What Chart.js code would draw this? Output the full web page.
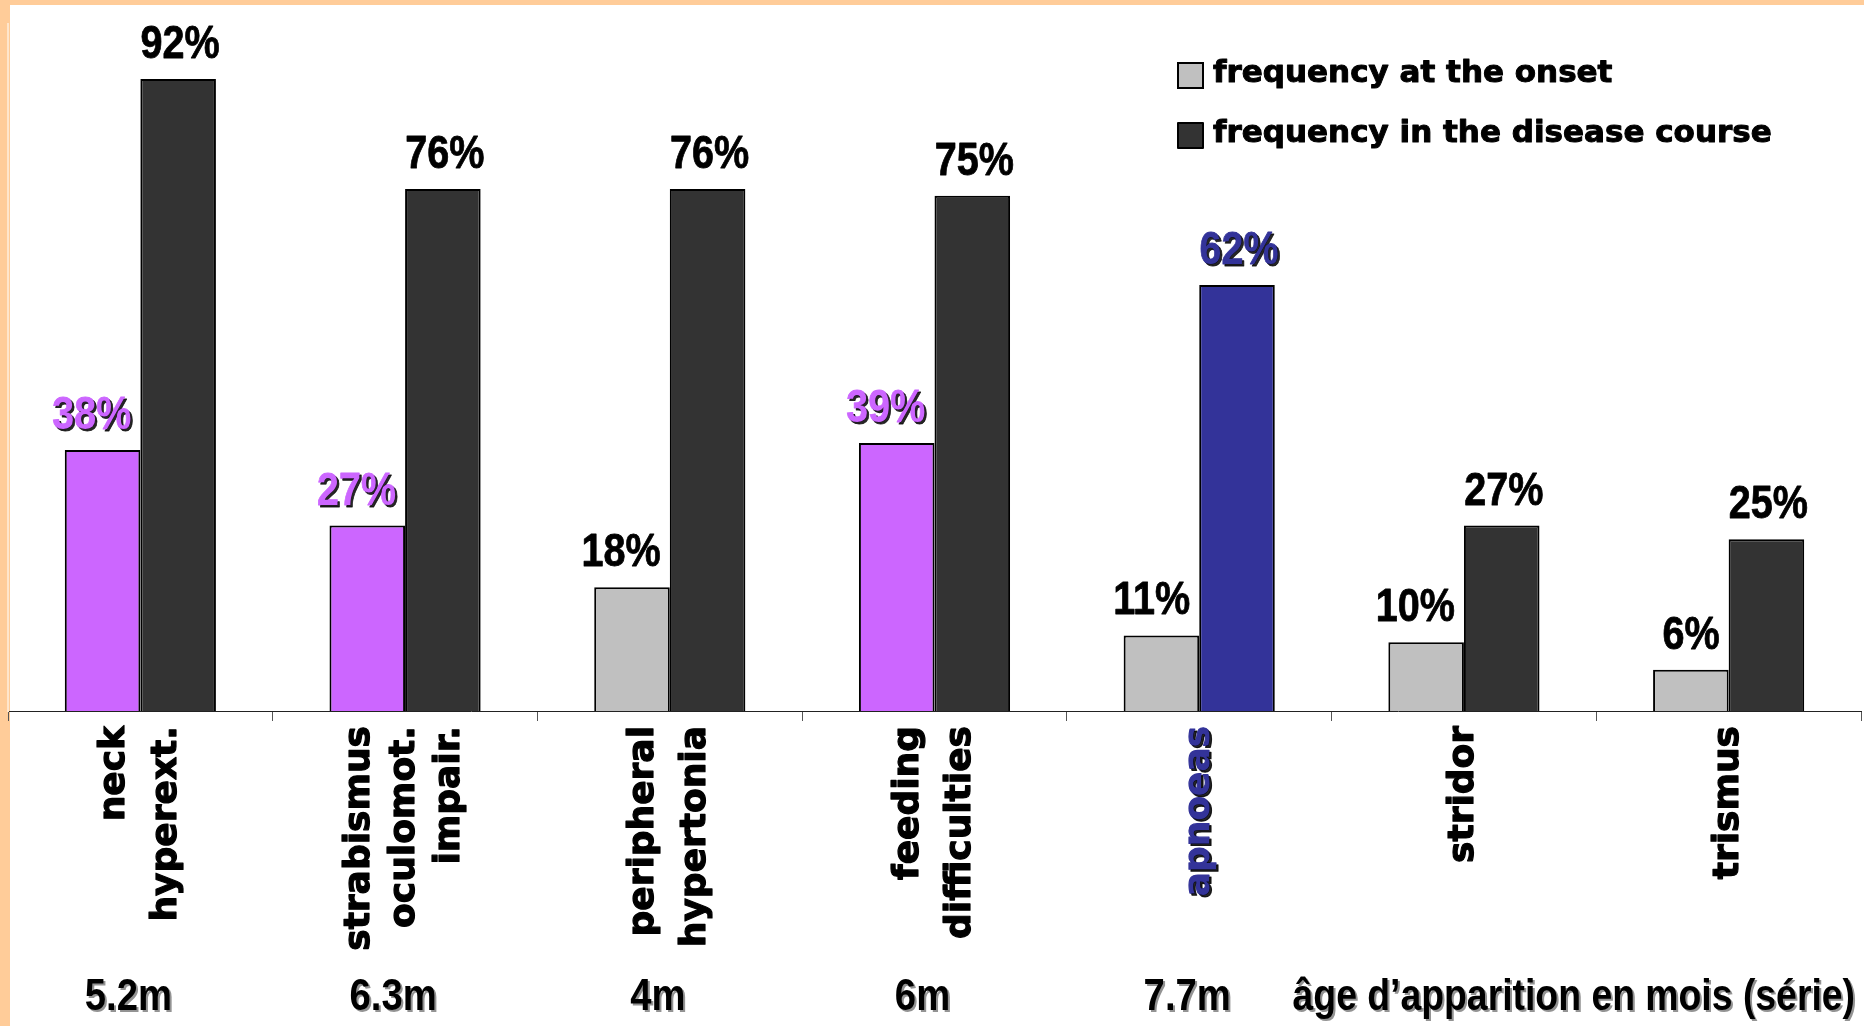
<!DOCTYPE html>
<html>
<head>
<meta charset="utf-8">
<script src="https://cdn.jsdelivr.net/npm/chart.js@4.4.1/dist/chart.umd.min.js"></script>
<style>
  html, body { margin: 0; padding: 0; background: #fff; }
  #wrap { position: relative; width: 1864px; height: 1026px; }
</style>
</head>
<body>
<div id="wrap"><canvas id="chart" width="1864" height="1026"></canvas></div>
<script>
// categories (multi-line labels read bottom-to-top under the axis)
const categories = [
  ['neck', 'hyperext.'],
  ['strabismus', 'oculomot.', 'impair.'],
  ['peripheral', 'hypertonia'],
  ['feeding', 'difficulties'],
  'apnoeas',
  'stridor',
  'trismus'
];
const onsetPct = [38, 27, 18, 39, 11, 10, 6];
const coursePct = [92, 76, 76, 75, 62, 27, 25];
const ageAtOnset = ['5.2m', '6.3m', '4m', '6m', '7.7m', '', ''];
const ageCaption = 'âge d’apparition en mois (série)';
const seriesNames = ['frequency at the onset', 'frequency in the disease course'];
const highlightOnset = [true, true, false, true, false, false, false];
const highlightCourse = [false, false, false, false, true, false, false];

const PURPLE = '#CC66FF';
const GREY = '#C0C0C0';
const DARK = '#333333';
const NAVY = '#333399';
const ORANGE = '#FFCC99';

const onsetColors = onsetPct.map((v, i) => highlightOnset[i] ? PURPLE : GREY);
const courseColors = coursePct.map((v, i) => highlightCourse[i] ? NAVY : DARK);

const NARROW = 'bold 46px "Liberation Sans", Arial, sans-serif';
const WIDE = '"DejaVu Sans", sans-serif';

// fill + thin stroke to get a heavier bold
function heavyText(c, txt, x, y, w) {
  c.lineWidth = w;
  c.lineJoin = 'round';
  c.strokeStyle = c.fillStyle;
  c.strokeText(txt, x, y);
  c.fillText(txt, x, y);
}

// orange frame on top and left edges
const frame = {
  id: 'frame',
  beforeDraw(chart) {
    const c = chart.ctx;
    c.save();
    c.fillStyle = '#fff';
    c.fillRect(0, 0, chart.width, chart.height);
    c.fillStyle = ORANGE;
    c.fillRect(0, 0, chart.width, 5);
    c.fillRect(0, 0, 10, chart.height);
    c.restore();
  }
};

// percent labels above each bar
const valueLabels = {
  id: 'valueLabels',
  afterDatasetsDraw(chart) {
    const c = chart.ctx;
    chart.data.datasets.forEach((ds, di) => {
      const meta = chart.getDatasetMeta(di);
      meta.data.forEach((bar, i) => {
        const hi = di === 0 ? highlightOnset[i] : highlightCourse[i];
        c.save();
        c.font = NARROW;
        c.textBaseline = 'alphabetic';
        let x = bar.x + 2;
        c.textAlign = 'center';
        if (di === 0) {
          x = bar.x + bar.width / 2 - 9;
          c.textAlign = 'right';
        }
        c.translate(x, bar.y - 21);
        c.scale(0.86, 1);
        if (hi) {
          c.shadowColor = 'rgba(0,0,0,0.85)';
          c.shadowOffsetX = 2;
          c.shadowOffsetY = 2;
        }
        c.fillStyle = hi ? ds.backgroundColor[i] : '#000';
        heavyText(c, ds.data[i] + '%', 0, 0, 0.8);
        c.restore();
      });
    });
  }
};

// rotated category names, one column per line, centred on the tick
const categoryLabels = {
  id: 'categoryLabels',
  afterDraw(chart) {
    const xs = chart.scales.x;
    const c = chart.ctx;
    categories.forEach((lab, i) => {
      const lines = Array.isArray(lab) ? lab : [lab];
      const pitch = lines.length > 2 ? 45 : 52;
      const cx = xs.getPixelForValue(i);
      lines.forEach((t, k) => {
        c.save();
        c.translate(cx + (k - (lines.length - 1) / 2) * pitch, xs.top + 15);
        c.rotate(-Math.PI / 2);
        c.font = 'bold 36px ' + WIDE;
        c.textAlign = 'right';
        c.textBaseline = 'middle';
        if (i === 4) {
          c.shadowColor = 'rgba(0,0,0,0.85)';
          c.shadowOffsetX = 2;
          c.shadowOffsetY = 2;
        }
        c.fillStyle = i === 4 ? NAVY : '#000';
        heavyText(c, t, 0, 0, 1.2);
        c.restore();
      });
    });
  }
};

// age row under the labels + legend box in the top right
const extras = {
  id: 'extras',
  afterDraw(chart) {
    const c = chart.ctx;
    const xs = chart.scales.x;
    c.save();
    c.font = 'bold 45px "Liberation Sans", Arial, sans-serif';
    c.textBaseline = 'alphabetic';
    c.shadowColor = 'rgba(120,120,120,0.8)';
    c.shadowOffsetX = 2;
    c.shadowOffsetY = 2;
    c.fillStyle = '#000';
    ageAtOnset.forEach((t, i) => {
      if (!t) return;
      c.save();
      c.translate(xs.getPixelForValue(i) - 12, 1010);
      c.scale(0.85, 1);
      c.textAlign = 'center';
      c.fillText(t, 0, 0);
      c.restore();
    });
    c.save();
    c.translate(chart.width - 9, 1010);
    c.scale(0.83, 1);
    c.textAlign = 'right';
    c.fillText(ageCaption, 0, 0);
    c.restore();
    c.restore();

    // legend
    c.save();
    const boxColors = [GREY, DARK];
    seriesNames.forEach((name, i) => {
      const y = 63 + i * 60;
      c.fillStyle = boxColors[i];
      c.fillRect(1178, y, 25, 25);
      c.strokeStyle = '#000';
      c.lineWidth = 2;
      c.strokeRect(1178, y, 25, 25);
      c.fillStyle = '#000';
      c.font = 'bold 31px ' + WIDE;
      c.textAlign = 'left';
      c.textBaseline = 'middle';
      heavyText(c, name, 1213, y + 11, 1);
    });
    c.restore();
  }
};

new Chart(document.getElementById('chart'), {
  type: 'bar',
  data: {
    labels: categories,
    datasets: [
      {
        label: seriesNames[0],
        data: onsetPct,
        backgroundColor: onsetColors,
        borderColor: '#000',
        borderWidth: 2,
        categoryPercentage: 0.571,
        barPercentage: 1
      },
      {
        label: seriesNames[1],
        data: coursePct,
        backgroundColor: courseColors,
        borderColor: '#000',
        borderWidth: 2,
        categoryPercentage: 0.571,
        barPercentage: 1
      }
    ]
  },
  options: {
    responsive: false,
    animation: false,
    devicePixelRatio: 1,
    layout: { padding: { left: 8, top: 24, right: 3, bottom: 0 } },
    plugins: {
      legend: { display: false },
      tooltip: { enabled: false }
    },
    scales: {
      x: {
        grid: { display: true, drawOnChartArea: false, drawTicks: true, tickLength: 10, color: '#555', lineWidth: 1 },
        border: { display: true, color: '#222', width: 1 },
        ticks: { display: false },
        afterFit: s => { s.height = 315; }
      },
      y: {
        min: 0,
        max: 100,
        ticks: { display: false },
        grid: { display: false, drawTicks: false },
        border: { display: true, color: '#FFE6CC', width: 2 }
      }
    }
  },
  plugins: [frame, valueLabels, categoryLabels, extras]
});
</script>
</body>
</html>
